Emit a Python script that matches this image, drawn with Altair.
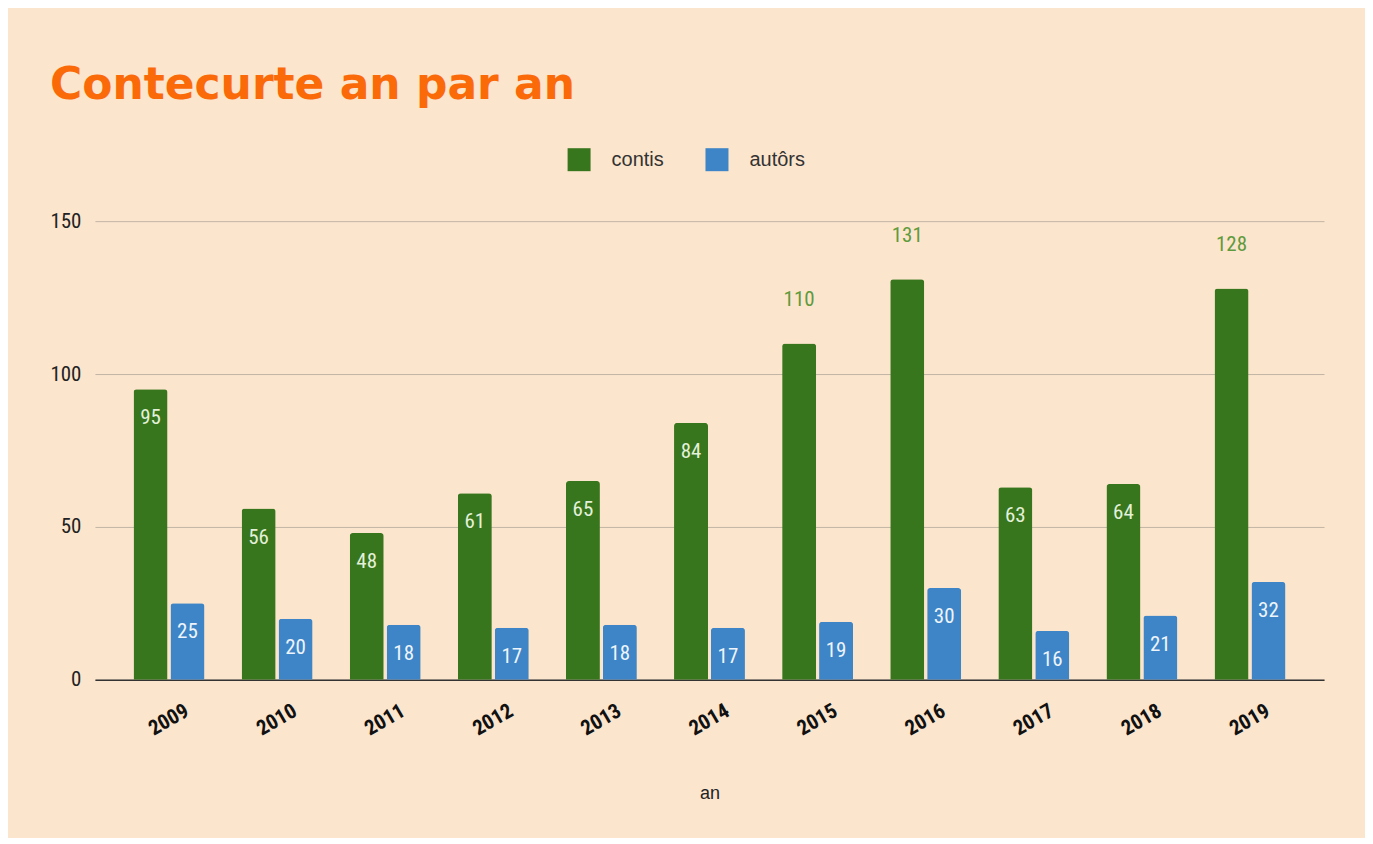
import altair as alt
import pandas as pd

years = ["2009", "2010", "2011", "2012", "2013", "2014", "2015", "2016", "2017", "2018", "2019"]
contis = [95, 56, 48, 61, 65, 84, 110, 131, 63, 64, 128]
autors = [25, 20, 18, 17, 18, 17, 19, 30, 16, 21, 32]
series = ["contis", "autôrs"]
colors = ["#38761d", "#3d85c6"]

rows = []
for y, c, a in zip(years, contis, autors):
    rows.append({"year": y, "series": "contis", "value": c})
    rows.append({"year": y, "series": "autôrs", "value": a})
df = pd.DataFrame(rows)

NARROW = "Liberation Sans Narrow, Roboto Condensed, Arial Narrow, Liberation Sans, sans-serif"

x_enc = alt.X(
    "year:N",
    sort=years,
    scale=alt.Scale(paddingInner=0.344, paddingOuter=0.357),
    axis=alt.Axis(
        title="an",
        labelAngle=-30,
        labelAlign="center",
        labelBaseline="middle",
        labelPadding=40,
        labelFont=NARROW,
        labelFontSize=21,
        labelFontWeight="bold",
        labelColor="#111111",
        ticks=False,
        domainColor="#333333",
        domainWidth=1.5,
        titleFont="Liberation Sans, sans-serif",
        titleFontSize=18,
        titleFontWeight="normal",
        titleColor="#222222",
        titlePadding=46,
    ),
)
xo_enc = alt.XOffset("series:N", sort=series, scale=alt.Scale(domain=series, paddingInner=0.08, paddingOuter=0))
y_enc = alt.Y(
    "value:Q",
    scale=alt.Scale(domain=[0, 150], nice=False),
    axis=alt.Axis(
        title=None,
        values=[0, 50, 100, 150],
        ticks=False,
        domain=False,
        labelFont=NARROW,
        labelFontSize=21,
        labelColor="#222222",
        labelPadding=14,
        gridColor="#c2b5a5",
        gridWidth=1,
    ),
)

base = alt.Chart(df)

bars = base.mark_bar(cornerRadiusTopLeft=3, cornerRadiusTopRight=3).encode(
    x=x_enc,
    xOffset=xo_enc,
    y=y_enc,
    color=alt.Color(
        "series:N",
        sort=series,
        scale=alt.Scale(domain=series, range=colors),
        legend=alt.Legend(
            title=None,
            orient="none",
            legendX=473,
            legendY=-73,
            direction="horizontal",
            symbolType="square",
            symbolSize=529,
            symbolStrokeWidth=0,
            symbolOpacity=1,
            labelFont="Liberation Sans, sans-serif",
            labelFontSize=20,
            labelColor="#333333",
            labelOffset=21,
            columnPadding=41,
        ),
    ),
)

inside = base.transform_filter(alt.datum.value <= 100).mark_text(
    baseline="middle", dy=29, font=NARROW, fontSize=21
).encode(
    x=alt.X("year:N", sort=years),
    xOffset=alt.XOffset("series:N", sort=series),
    y="value:Q",
    text="value:Q",
    color=alt.condition(alt.datum.series == "contis", alt.value("#e4f1da"), alt.value("#eef4fb")),
)

outside = base.transform_filter(alt.datum.value > 100).mark_text(
    baseline="middle", dy=-43, font=NARROW, fontSize=21, color="#5f9a3c"
).encode(
    x=alt.X("year:N", sort=years),
    xOffset=alt.XOffset("series:N", sort=series),
    y="value:Q",
    text="value:Q",
)

chart = alt.layer(bars, inside, outside).properties(
    width=1230,
    height=459,
    autosize=alt.AutoSizeParams(type="none"),
    padding={"left": 87, "top": 213, "right": 41, "bottom": 158},
    background="#fce5cd",
    title=alt.Title(
        "Contecurte an par an",
        anchor="start",
        frame="group",
        font="DejaVu Sans, Liberation Sans, sans-serif",
        fontSize=44,
        fontWeight="bold",
        color="#fb6a08",
        baseline="alphabetic",
        offset=5,
        dx=-45,
    ),
).configure_view(stroke=None)

chart.save("out.html", embed_options={"renderer": "svg", "actions": False})
